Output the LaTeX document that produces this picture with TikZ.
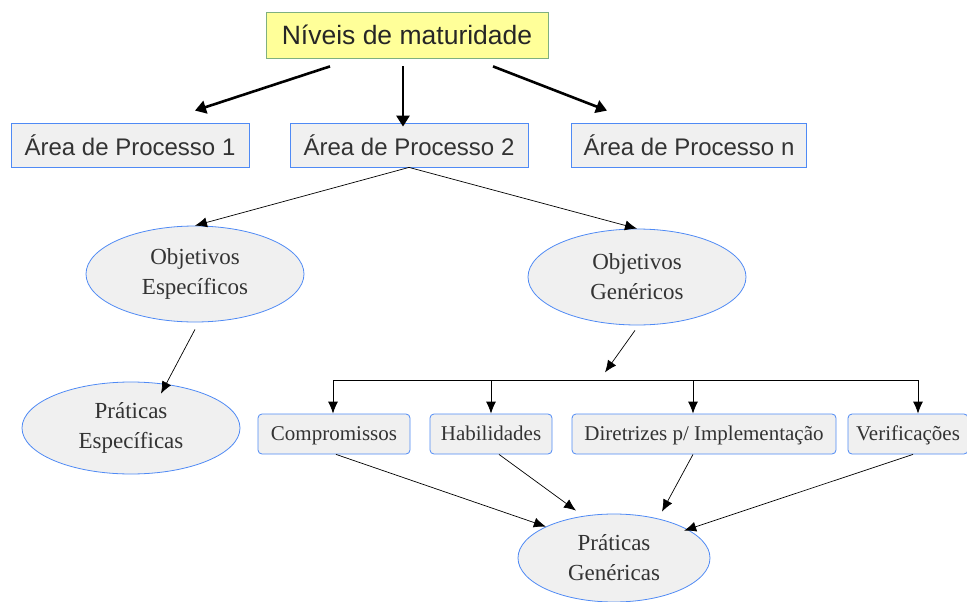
\documentclass[tikz,border=0pt]{standalone}
\usepackage{fontspec}
\setmainfont{Liberation Serif}
\newfontfamily\arialfont{Liberation Sans}
\usetikzlibrary{arrows.meta,shapes.geometric}
\definecolor{lime}{HTML}{FFFF99}
\definecolor{leaf}{HTML}{7FB07F}
\definecolor{sky}{HTML}{4F8AF5}
\definecolor{pale}{HTML}{F0F0F0}

\begin{document}
\begin{tikzpicture}[x=1pt,y=-1pt,
  area/.style={draw=sky,fill=pale,minimum width=238pt,minimum height=44pt,
    font=\arialfont\fontsize{24}{28}\selectfont,text=black!80,line width=0.8pt},
  oval/.style={ellipse,draw=sky,fill=pale,align=center,inner sep=0pt,line width=0.8pt,
    font=\fontsize{23}{30}\selectfont,text=black!80},
  item/.style={draw=sky,fill=pale,rounded corners=4pt,minimum height=40pt,
    text height=14pt,text depth=2pt,
    font=\fontsize{21}{24}\selectfont,text=black!80,inner sep=1pt,line width=0.8pt},
  bigarr/.style={-{Triangle[length=11pt,width=13pt]},line width=2.6pt},
  arr/.style={-{Latex[length=12pt,width=10pt]},line width=0.7pt}]
\useasboundingbox (0,0) rectangle (967,602);
\node[draw=leaf,fill=lime,minimum width=282pt,minimum height=46pt,line width=0.8pt,
  font=\arialfont\fontsize{26.5}{30}\selectfont,text=black!85] (niveis) at (407,35) {Níveis de maturidade};
\node[area] (ap1) at (130,145) {Área de Processo 1};
\node[area] (ap2) at (409,145) {Área de Processo 2};
\node[area,minimum width=235pt] (apn) at (689,145) {Área de Processo n};
\node[oval,minimum width=218pt,minimum height=96pt] (objesp) at (195,274) {Objetivos\\Específicos};
\node[oval,minimum width=218pt,minimum height=96pt] (objgen) at (637,277) {Objetivos\\Genéricos};
\node[oval,minimum width=218pt,minimum height=92pt] (praesp) at (131,428) {Práticas\\Específicas};
\node[item,minimum width=152pt] (comp) at (334,434) {Compromissos};
\node[item,minimum width=122pt] (hab) at (491,434) {Habilidades};
\node[item,minimum width=264pt] (dir) at (704,434) {Diretrizes p/ Implementação};
\node[item,minimum width=120pt] (ver) at (908,434) {Verificações};
\node[oval,minimum width=192pt,minimum height=88pt] (pragen) at (614,558) {Práticas\\Genéricas};
% arrows from the top
\draw[bigarr] ([xshift=-77pt,yshift=-8pt]niveis.south) -- ([xshift=65pt,yshift=12pt]ap1.north);
\draw[bigarr] ([xshift=-4pt,yshift=-8pt]niveis.south) -- ([xshift=-6pt,yshift=-4pt]ap2.north);
\draw[bigarr] ([xshift=86pt,yshift=-8pt]niveis.south) -- ([xshift=-82pt,yshift=12pt]apn.north);
\draw[arr] (ap2.south) -- (objesp.north);
\draw[arr] (ap2.south) -- (objgen.north);
\draw[arr] ([yshift=-7pt]objesp.south) -- ([xshift=30pt,yshift=-12pt]praesp.north);
\draw[arr] ([xshift=-2pt,yshift=-5pt]objgen.south) -- ([xshift=-32pt,yshift=-47pt]objgen.south);
% bus to the four items
\coordinate (b1) at (333,380);
\coordinate (b2) at (491,380);
\coordinate (b3) at (693,380);
\coordinate (b4) at (918,380);
\draw[thick] (b1) -- (b4);
\foreach \c/\n in {b1/comp,b2/hab,b3/dir,b4/ver}
  \draw[arr,thick] (\c) -- (\c |- \n.north);
\draw[arr] ([xshift=2pt]comp.south) -- (pragen.north west);
\draw[arr] ([xshift=8pt]hab.south) -- ([xshift=-38pt,yshift=3pt]pragen.north);
\draw[arr] ([xshift=-11pt]dir.south) -- ([xshift=48pt,yshift=2pt]pragen.north);
\draw[arr] ([xshift=5pt]ver.south) -- ([xshift=2pt,yshift=-4pt]pragen.north east);
\end{tikzpicture}
\end{document}
